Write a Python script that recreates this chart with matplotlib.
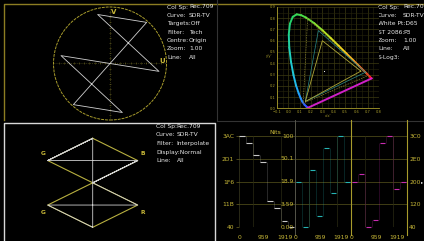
import numpy as np
import matplotlib.pyplot as plt
from matplotlib.collections import LineCollection
from matplotlib.colors import LinearSegmentedColormap
from matplotlib.patches import Circle
from matplotlib.transforms import blended_transform_factory, offset_copy

plt.rcParams['font.family'] = ['Liberation Sans Narrow', 'DejaVu Sans']

W, H = 424, 241

# 100% colour bars: white, yellow, cyan, green, magenta, red, blue, black
barR = [1, 1, 0, 0, 1, 1, 0, 0]
barG = [1, 1, 1, 1, 0, 0, 0, 0]
barB = [1, 0, 1, 0, 1, 0, 1, 0]
barY = [940, 877, 754, 691, 313, 250, 127, 64]
barCb = [512, 64, 625, 177, 847, 399, 960, 512]
barCr = [512, 584, 64, 136, 888, 960, 440, 512]
barStart = [0, 240, 480, 720, 960, 1200, 1440, 1680]
lineEnd = 1919

lumaTicks = [64, 283, 502, 721, 940]
lumaLabels = ['40', '11B', '1F6', '2D1', '3AC']
nitsLabels = ['0.00', '3.59', '18.9', '50.1', '100']
chromaTicks = [64, 288, 512, 736, 960]
chromaLabels = ['40', '120', '200', '2E0', '3C0']
sampleTicks = [0, 959, 1919]

# CIE 1931 spectral locus
locusWl = [380, 400, 420, 440, 450, 460, 470, 475, 480, 485, 490, 495, 500, 505,
           510, 515, 520, 525, 530, 540, 550, 560, 570, 580, 590, 600, 620, 640, 660, 700]
locusX = [0.1741, 0.1733, 0.1714, 0.1644, 0.1566, 0.1440, 0.1241, 0.1096, 0.0913, 0.0687,
          0.0454, 0.0235, 0.0082, 0.0039, 0.0139, 0.0389, 0.0743, 0.1142, 0.1547, 0.2296,
          0.3016, 0.3731, 0.4441, 0.5125, 0.5752, 0.6270, 0.6915, 0.7190, 0.7300, 0.7347]
locusY = [0.0050, 0.0048, 0.0051, 0.0109, 0.0177, 0.0297, 0.0578, 0.0868, 0.1327, 0.2007,
          0.2950, 0.4127, 0.5384, 0.6548, 0.7502, 0.8120, 0.8338, 0.8262, 0.8059, 0.7543,
          0.6923, 0.6245, 0.5547, 0.4866, 0.4242, 0.3725, 0.3083, 0.2809, 0.2700, 0.2653]
gamut709x = [0.64, 0.30, 0.15]
gamut709y = [0.33, 0.60, 0.06]
gamutP3x = [0.68, 0.265, 0.15]
gamutP3y = [0.32, 0.69, 0.06]
gamut2020x = [0.708, 0.170, 0.131]
gamut2020y = [0.292, 0.797, 0.046]
whiteD65 = (0.3127, 0.3290)

vecLabels = ['Col Sp:', 'Curve:', 'Targets:Off', 'Filter:', 'Centre:', 'Zoom:', 'Line:']
vecValues = ['Rec.709', 'SDR-TV', '', 'Tech', 'Origin', '1.00', 'All']
cieLabels = ['Col Sp:', 'Curve:', 'White Pt:D65', 'ST 2086:', 'Zoom:', 'Line:', 'S-Log3:']
cieValues = ['Rec.709', 'SDR-TV', '', 'P3', '1.00', 'All', '']
dmdLabels = ['Col Sp:', 'Curve:', 'Filter:', 'Display:Normal', 'Line:']
dmdValues = ['Rec.709', 'SDR-TV', 'Interpolate', '', 'All']

GOLD = '#c8b838'
GRAT = '#a89c2c'
DIM = '#4a4718'
TRACE = '#d0d0d0'
TXT = 4.3

fig = plt.figure(figsize=(W / 100, H / 100), dpi=100, facecolor='black')


def px_axes(x0, y0, x1, y1):
    a = fig.add_axes([x0 / W, 1 - y1 / H, (x1 - x0) / W, (y1 - y0) / H])
    a.set_facecolor('none')
    return a


base = px_axes(0, 0, W, H)
base.set_xlim(0, W)
base.set_ylim(H, 0)
base.axis('off')

# panel frames
base.plot([4, 4, 424], [120, 4, 4], color='#8c7d22', lw=1.0)
base.plot([4, 4, 215, 215], [241, 123, 123, 241], color='#d8d8d8', lw=1.0)
base.plot([217, 217], [0, 121], color='#333333', lw=0.8)
base.plot([217, 424], [121, 121], color='#333333', lw=0.8)


def info(xl, xv, y0, labels, values, dy=8.4):
    for i, (l, v) in enumerate(zip(labels, values)):
        base.text(xl, y0 + i * dy, l, color='#e8e8e8', fontsize=TXT, va='center')
        if v:
            base.text(xv, y0 + i * dy, v, color='#e8e8e8', fontsize=TXT, va='center')


info(167, 189, 7, vecLabels, vecValues)
info(378, 403, 7, cieLabels, cieValues)
info(156, 176.5, 126.3, dmdLabels, dmdValues, dy=8.6)

# vectorscope
vs = px_axes(53.5, 7, 166.5, 120)
rad = 516.6
vs.set_xlim(512 - rad, 512 + rad)
vs.set_ylim(512 - rad, 512 + rad)
vs.axis('off')
vs.add_patch(Circle((512, 512), rad, fill=False, ec=GRAT, lw=0.7, ls=(0, (3, 1)), clip_on=False))
vs.plot([512 - rad, 512 + rad], [512, 512], color=DIM, lw=0.6, ls=(0, (1, 1.5)))
vs.plot([512, 512], [512 - rad, 512 + rad], color=DIM, lw=0.6, ls=(0, (1, 1.5)))
tk = np.arange(512 - 10 * rad / 11, 512 + rad, rad / 11)
vs.plot(tk, np.full_like(tk, 512), ls='none', marker='|', ms=1.6, mew=0.4, color='#6a6422')
vs.plot(np.full_like(tk, 512), tk, ls='none', marker='_', ms=1.6, mew=0.4, color='#6a6422')
vs.plot(barCb + barCb[:1], barCr + barCr[:1], color=TRACE, lw=0.6)
vs.text(0.53, 0.955, 'V', transform=vs.transAxes, color=GOLD, fontsize=5,
        ha='center', va='center', fontweight='bold')
vs.text(0.965, 0.52, 'U', transform=vs.transAxes, color=GOLD, fontsize=5,
        ha='center', va='center', fontweight='bold')

# diamond
dm = px_axes(47.7, 138.3, 137.7, 227.3)
dm.set_xlim(-1, 1)
dm.set_ylim(-2, 2)
dm.axis('off')
dm.plot([0, -1, 0, 1, 0], [2, 1, 0, 1, 2], color='#b8b040', lw=0.8, clip_on=False)
dm.plot([0, -1, 0, 1, 0], [0, -1, -2, -1, 0], color='#b8b040', lw=0.8, clip_on=False)
r, g, b = np.array(barR), np.array(barG), np.array(barB)
upX, upY = b - g, b + g
loX, loY = r - g, -(r + g)
dm.plot(np.append(upX, upX[0]), np.append(upY, upY[0]), color=TRACE, lw=0.6, clip_on=False)
dm.plot(np.append(loX, loX[0]), np.append(loY, loY[0]), color=TRACE, lw=0.6, clip_on=False)
for x, y, s in [(-1.1, 1.32, 'G'), (1.11, 1.32, 'B'), (-1.1, -1.35, 'G'), (1.11, -1.35, 'R')]:
    dm.text(x, y, s, color=GOLD, fontsize=4.3, ha='center', va='center', fontweight='bold')

# CIE chart
cie = px_axes(277, 6.9, 379, 108.3)
cie.set_facecolor('black')
cie.set_xlim(-0.1, 0.8)
cie.set_ylim(0, 0.9)
cie.set_xticks(np.round(np.arange(-0.1, 0.81, 0.1), 1))
cie.set_yticks(np.round(np.arange(0, 0.91, 0.1), 1))
cie.set_xticks(np.arange(-0.05, 0.8, 0.1), minor=True)
cie.set_yticks(np.arange(0.05, 0.9, 0.1), minor=True)
cie.tick_params(which='both', length=0, labelsize=2.6, colors=GRAT, pad=1)
cie.grid(which='major', color='#3c3a12', lw=0.5)
cie.grid(which='minor', color='#26250c', lw=0.4)
for s in ['top', 'right']:
    cie.spines[s].set_visible(False)
for s in ['left', 'bottom']:
    cie.spines[s].set_color(GRAT)
    cie.spines[s].set_linewidth(0.6)
cie.set_xlabel("x/x'", fontsize=2.6, color=GRAT, labelpad=0.5)
cie.set_ylabel("y/y'", fontsize=2.6, color=GRAT, labelpad=0.5, rotation=0)
cmap = LinearSegmentedColormap.from_list('locus', [
    (0.0, '#6040ff'), (0.25, '#3050ff'), (0.3125, '#20a0ff'), (0.36, '#20d0d0'),
    (0.41, '#20d070'), (0.47, '#50e040'), (0.56, '#c0e020'), (0.625, '#ffd020'),
    (0.69, '#ff8020'), (0.78, '#ff3020'), (1.0, '#ff1020')])
pts = np.column_stack([locusX, locusY])
segs = np.stack([pts[:-1], pts[1:]], axis=1)
wl = np.array(locusWl)
mid = (wl[:-1] + wl[1:]) / 2
cie.add_collection(LineCollection(segs, colors=cmap((mid - 380) / 320), lw=1.4, capstyle='round'))
cie.plot([locusX[-1], locusX[0]], [locusY[-1], locusY[0]], color='#d020c8', lw=1.4)
cie.plot(gamut2020x + gamut2020x[:1], gamut2020y + gamut2020y[:1], color='#8a8430', lw=0.5, ls=(0, (2, 1.5)))
cie.plot(gamutP3x + gamutP3x[:1], gamutP3y + gamutP3y[:1], color='#2a8a8a', lw=0.5)
cie.plot(gamut709x + gamut709x[:1], gamut709y + gamut709y[:1], color='#b0a838', lw=0.6)
cie.plot(*whiteD65, marker='o', ms=0.8, color='white', mew=0)

# waveform parade
pa = px_axes(238.7, 136, 407, 227.3)
pa.set_xlim(0, 5760)
pa.set_ylim(64, 940)
pa2 = pa.twinx()
pa2.set_ylim(64, 960)
for a in (pa, pa2):
    for s in a.spines.values():
        s.set_visible(False)
pa.set_xticks([])
for t in lumaTicks:
    pa.axhline(t, color=DIM, lw=0.6, zorder=0)
for k in range(3):
    for q in (480, 1440):
        pa.axvline(k * 1920 + q, color='#2a2a14', lw=0.5, zorder=0)
pa.axvline(0, color='#3a3a20', lw=0.5, zorder=0)
pa.axvline(1920, ymin=-0.08, ymax=1.17, color='#55554a', lw=0.7, clip_on=False)
pa.axvline(3840, ymin=-0.08, ymax=1.17, color=GRAT, lw=0.8, clip_on=False)
pa.axvline(5760, ymin=-0.08, ymax=1.17, color=GRAT, lw=0.8, clip_on=False)

xs = np.array(barStart)
xe = np.array(barStart[1:] + [lineEnd])
for a, vals, off, col in [(pa, barY, 0, '#c8c8c8'), (pa2, barCb, 1920, '#26b4b4'),
                          (pa2, barCr, 3840, '#c82cb0')]:
    a.hlines(vals, xs + off + 25, xe + off - 25, color=col, lw=0.8, clip_on=False)
    a.vlines(xs[1:] + off, vals[:-1], vals[1:], color=col, lw=0.4, alpha=0.35, clip_on=False)

pa.set_yticks(lumaTicks, lumaLabels)
pa.tick_params(axis='y', length=2.5, width=0.5, color='#6a6422', labelcolor=GOLD, labelsize=TXT, pad=0.8)
pa2.set_yticks(chromaTicks, chromaLabels)
pa2.tick_params(axis='y', length=0, labelcolor=GOLD, labelsize=TXT, pad=1.5)

trans = blended_transform_factory(pa.transAxes, pa.transData)
for t, lab in zip(lumaTicks, nitsLabels):
    pa.text(0.325, t, lab, transform=trans, ha='right', va='center', color=GOLD, fontsize=TXT)
pa.text(0.2175, 1.036, 'Nits', transform=pa.transAxes, ha='center', va='center', color=GOLD, fontsize=TXT)
for k in range(3):
    for s, dx in zip(sampleTicks, [0.5, -3, -10]):
        tr = offset_copy(pa.get_xaxis_transform(), fig=fig, x=dx, y=0, units='dots')
        pa.text(k * 1920 + s, -0.11, str(s), transform=tr, ha='center', va='center',
                color=GOLD, fontsize=TXT)
base.text(422, 181.7, '▸', color='white', fontsize=3.2, ha='center', va='center',
          family='DejaVu Sans')

fig.savefig('out.png', dpi=100, facecolor='black')
